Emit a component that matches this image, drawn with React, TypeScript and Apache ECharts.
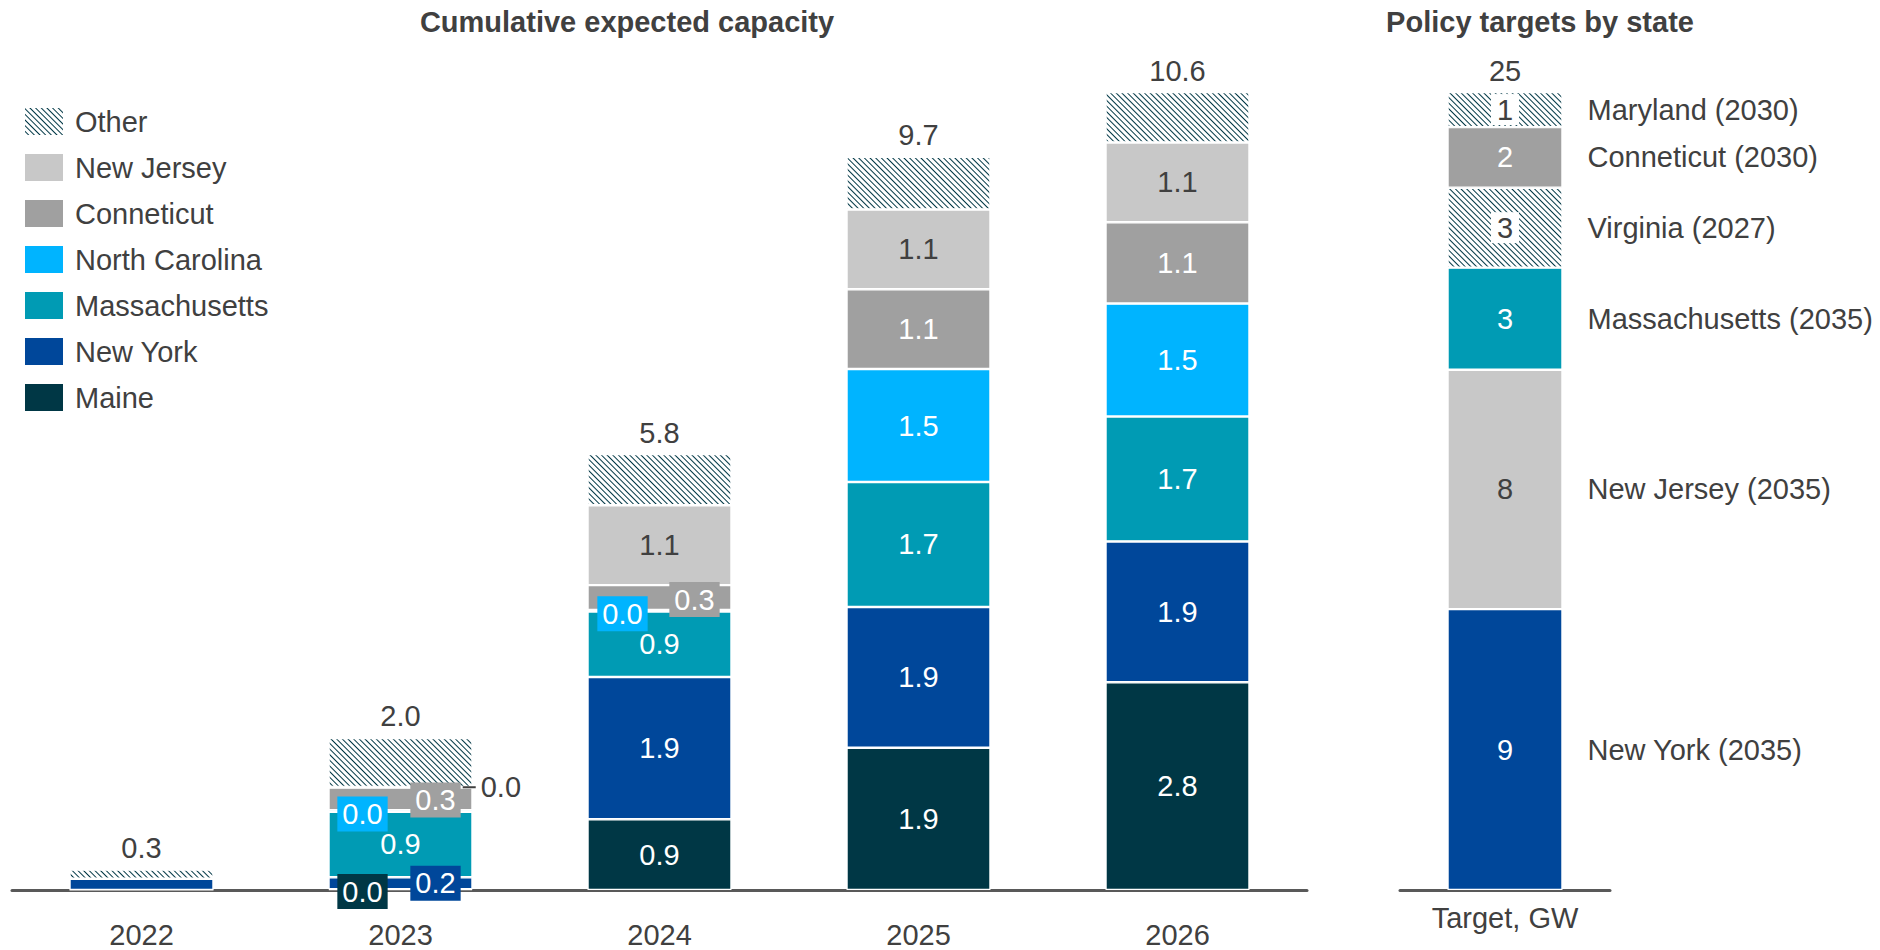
import React, { useEffect, useRef } from "react";
import * as echarts from "echarts";

// ---- Data ----
const years = ["2022", "2023", "2024", "2025", "2026"];
const maine = [0, 0.01, 0.94, 1.89, 2.76];
const newYork = [0.15, 0.16, 1.89, 1.87, 1.87];
const massachusetts = [0, 0.87, 0.87, 1.66, 1.66];
const northCarolina = [0, 0.02, 0.02, 1.5, 1.5];
const connecticut = [0, 0.3, 0.33, 1.06, 1.08];
const newJersey = [0, 0.01, 1.06, 1.06, 1.06];
const other = [0.12, 0.65, 0.68, 0.7, 0.67];

const targetCategory = ["Target, GW"];
const targetStates = [
  "New York (2035)",
  "New Jersey (2035)",
  "Massachusetts (2035)",
  "Virginia (2027)",
  "Conneticut (2030)",
  "Maryland (2030)",
];
const targetValues = [8.8, 7.5, 3.2, 2.5, 1.9, 1.1];

// ---- Styles ----
const FONT = "Liberation Sans, Arial, sans-serif";
const TXT = "#404040";
const C = {
  maine: "#003745",
  newYork: "#00479A",
  mass: "#009BB4",
  nc: "#00B4FF",
  ct: "#A0A0A0",
  nj: "#C8C8C8",
};
const decal = {
  symbol: "rect",
  symbolSize: 1,
  color: "#003745",
  dashArrayX: [1, 0],
  dashArrayY: [1, 2.5],
  rotation: Math.PI / 4,
};

const leftSeriesDefs = [
  { name: "Maine", data: maine, color: C.maine, text: "#fff" },
  { name: "New York", data: newYork, color: C.newYork, text: "#fff" },
  { name: "Massachusetts", data: massachusetts, color: C.mass, text: "#fff" },
  { name: "North Carolina", data: northCarolina, color: C.nc, text: "#fff" },
  { name: "Conneticut", data: connecticut, color: C.ct, text: "#fff" },
  { name: "New Jersey", data: newJersey, color: C.nj, text: TXT },
];

// label placement overrides: key `${seriesIndex}-${yearIndex}`
const boxed: Record<string, [number, number]> = {
  "0-1": [-38, 2],
  "1-1": [35, 0],
  "3-1": [-38, 3],
  "4-1": [35, 1],
  "3-2": [-37, 3],
  "4-2": [35, 2],
};
const outsideRight = ["5-1"];

export default function App() {
  const ref = useRef<HTMLDivElement>(null);
  useEffect(() => {
    if (!ref.current) return;
    const chart = echarts.init(ref.current, undefined, { renderer: "svg" });

    const totals = years.map((_, i) =>
      [maine, newYork, massachusetts, northCarolina, connecticut, newJersey, other].reduce(
        (s, arr) => s + arr[i],
        0
      )
    );
    const targetTotal = targetValues.reduce((s, v) => s + v, 0);

    const leftSeries: any[] = leftSeriesDefs.map((d, si) => ({
      name: d.name,
      type: "bar",
      stack: "left",
      xAxisIndex: 0,
      yAxisIndex: 0,
      barWidth: 144,
      itemStyle: { color: d.color, borderColor: "#fff", borderWidth: 1.2 },
      label: {
        show: true,
        position: "inside",
        fontSize: 29,
        fontFamily: FONT,
        color: d.text,
        formatter: (p: any) => Number(p.value).toFixed(1),
      },
      data: d.data.map((v, yi) => {
        const key = `${si}-${yi}`;
        if (yi === 0) return { value: v, label: { show: false } };
        if (boxed[key]) {
          return {
            value: v,
            label: {
              show: true,
              position: "inside",
              offset: boxed[key],
              backgroundColor: d.color,
              padding: [3, 5],
              lineHeight: 29,
              color: "#fff",
            },
          };
        }
        if (outsideRight.includes(key)) {
          return {
            value: v,
            label: {
              show: true,
              position: "right",
              distance: -10,
              color: TXT,
              formatter: (p: any) => `{l|}{v|${Number(p.value).toFixed(1)}}`,
              rich: {
                l: { width: 13, height: 2, backgroundColor: "#404040" },
                v: { fontSize: 29, fontFamily: FONT, color: TXT, padding: [0, 0, 0, 5] },
              },
            },
          };
        }
        return v;
      }),
    }));

    leftSeries.push({
      name: "Other",
      type: "bar",
      stack: "left",
      xAxisIndex: 0,
      yAxisIndex: 0,
      barWidth: 144,
      itemStyle: { color: "#fff", decal, borderColor: "#fff", borderWidth: 1.2 },
      label: {
        show: true,
        position: "top",
        distance: 7,
        fontSize: 29,
        fontFamily: FONT,
        color: TXT,
        formatter: (p: any) => totals[p.dataIndex].toFixed(1),
      },
      data: other,
    });

    const rightColors = [C.newYork, C.nj, C.mass, null, C.ct, null];
    const rightText = ["#fff", TXT, "#fff", TXT, "#fff", TXT];
    const rightSeries: any[] = targetStates.map((name, i) => {
      const hatched = rightColors[i] === null;
      return {
        name,
        type: "bar",
        stack: "right",
        xAxisIndex: 1,
        yAxisIndex: 1,
        barWidth: 115,
        barGap: "-100%",
        itemStyle: hatched
          ? { color: "#fff", decal, borderColor: "#fff", borderWidth: 1.2 }
          : { color: rightColors[i], borderColor: "#fff", borderWidth: 1.2 },
        label: {
          show: true,
          position: "inside",
          fontSize: 29,
          fontFamily: FONT,
          color: rightText[i],
          lineHeight: 29,
          backgroundColor: hatched ? "#fff" : "transparent",
          padding: hatched ? [1, 6] : 0,
          formatter: (p: any) => String(Math.round(p.value)),
        },
        data: [targetValues[i]],
      };
    });
    // total on top of target stack
    rightSeries.push({
      name: "targetTotal",
      type: "bar",
      stack: "right",
      xAxisIndex: 1,
      yAxisIndex: 1,
      barWidth: 115,
      barGap: "-100%",
      itemStyle: { color: "transparent" },
      label: {
        show: true,
        position: "top",
        distance: 7,
        fontSize: 29,
        fontFamily: FONT,
        color: TXT,
        formatter: () => String(Math.round(targetTotal)),
      },
      data: [0],
    });
    // state names to the right of each segment
    targetStates.forEach((name, i) => {
      rightSeries.push({
        name: name + " label",
        type: "bar",
        stack: "names",
        xAxisIndex: 1,
        yAxisIndex: 1,
        barWidth: 115,
        barGap: "-100%",
        itemStyle: { color: "transparent" },
        label: {
          show: true,
          position: "right",
          distance: 25,
          fontSize: 29,
          fontFamily: FONT,
          color: TXT,
          formatter: () => name,
        },
        data: [targetValues[i]],
      });
    });

    chart.setOption({
      animation: false,
      backgroundColor: "#fff",
      textStyle: { fontFamily: FONT },
      graphic: [
        {
          type: "text",
          x: 627,
          y: 22,
          style: {
            text: "Cumulative expected capacity",
            fontSize: 29,
            fontWeight: "bold",
            fontFamily: FONT,
            fill: TXT,
            textAlign: "center",
            textVerticalAlign: "middle",
          },
        },
        {
          type: "text",
          x: 1540,
          y: 22,
          style: {
            text: "Policy targets by state",
            fontSize: 29,
            fontWeight: "bold",
            fontFamily: FONT,
            fill: TXT,
            textAlign: "center",
            textVerticalAlign: "middle",
          },
        },
      ],
      legend: {
        data: ["Other", "New Jersey", "Conneticut", "North Carolina", "Massachusetts", "New York", "Maine"],
        orient: "vertical",
        left: 23,
        top: 106,
        padding: 0,
        itemWidth: 40,
        itemHeight: 29,
        itemGap: 15,
        icon: "rect",
        selectedMode: false,
        textStyle: { fontSize: 29, color: TXT, fontFamily: FONT, padding: [0, 0, 0, 6] },
      },
      grid: [
        { left: 12, width: 1295, top: 61.9, bottom: 60, containLabel: false },
        { left: 1400, width: 210, top: 60.1, bottom: 60, containLabel: false },
      ],
      xAxis: [
        {
          type: "category",
          gridIndex: 0,
          data: years,
          axisLine: { lineStyle: { color: "#595959", width: 3 } },
          axisTick: { show: false },
          axisLabel: { fontSize: 29, color: TXT, fontFamily: FONT, margin: 30 },
        },
        {
          type: "category",
          gridIndex: 1,
          data: targetCategory,
          axisLine: { lineStyle: { color: "#595959", width: 3 } },
          axisTick: { show: false },
          axisLabel: { fontSize: 29, color: TXT, fontFamily: FONT, margin: 13 },
        },
      ],
      yAxis: [
        { type: "value", gridIndex: 0, min: 0, max: 11, show: false },
        { type: "value", gridIndex: 1, min: 0, max: 26, show: false },
      ],
      series: [...leftSeries, ...rightSeries],
    });

    return () => chart.dispose();
  }, []);

  return (
    <div
      ref={ref}
      style={{ position: "fixed", left: 0, top: 0, width: 1880, height: 950, background: "#fff" }}
    />
  );
}
